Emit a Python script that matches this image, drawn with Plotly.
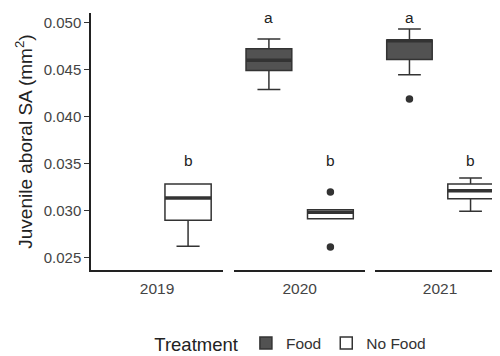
import plotly.graph_objects as go

years = ["2019", "2020", "2021"]
treatments = ["Food", "No Food"]

# box statistics per year (None = no data)
food_q1 = [None, 0.04493, 0.04610]
food_med = [None, 0.04603, 0.04810]
food_q3 = [None, 0.04727, 0.04819]
food_lo = [None, 0.04291, 0.04450]
food_hi = [None, 0.04830, 0.04936]
food_out = [[], [], [0.04191]]

nof_q1 = [0.02901, 0.02918, 0.03131]
nof_med = [0.03138, 0.02986, 0.03216]
nof_q3 = [0.03287, 0.03014, 0.03287]
nof_lo = [0.02624, 0.02918, 0.02997]
nof_hi = [0.03287, 0.03014, 0.03351]
nof_out = [[], [0.03202, 0.02617], []]

food_letters = [None, "a", "a"]
nof_letters = ["b", "b", "b"]

pos = {"Food": -0.47, "No Food": 0.47}
bw = 0.70
styles = {"Food": dict(fill="#525252", line="#333333"),
          "No Food": dict(fill="#ffffff", line="#333333")}

fig = go.Figure()
axes = ["x", "x2", "x3"]
shown = set()
rank = {"Food": 1, "No Food": 2}
for i, yr in enumerate(years):
    for tr, q1, med, q3, lo, hi, outs, letters, ly in [
        ("Food", food_q1, food_med, food_q3, food_lo, food_hi, food_out, food_letters, 0.05055),
        ("No Food", nof_q1, nof_med, nof_q3, nof_lo, nof_hi, nof_out, nof_letters, 0.03532),
    ]:
        if q1[i] is None:
            continue
        st = styles[tr]
        fig.add_trace(go.Box(
            x=[pos[tr]], q1=[q1[i]], median=[med[i]], q3=[q3[i]],
            lowerfence=[lo[i]], upperfence=[hi[i]], width=bw,
            fillcolor=st["fill"], line=dict(color=st["line"], width=1.5),
            name=tr, showlegend=tr not in shown, legendrank=rank[tr],
            boxpoints=False, hoverinfo="skip",
            xaxis=axes[i], yaxis="y"))
        shown.add(tr)
        # thick median
        fig.add_trace(go.Scatter(
            x=[pos[tr] - bw / 2, pos[tr] + bw / 2], y=[med[i], med[i]],
            mode="lines", line=dict(color="#333333", width=3.5),
            showlegend=False, hoverinfo="skip", xaxis=axes[i], yaxis="y"))
        if outs[i]:
            fig.add_trace(go.Scatter(
                x=[pos[tr]] * len(outs[i]), y=outs[i], mode="markers",
                marker=dict(color="#333333", size=7.5),
                showlegend=False, hoverinfo="skip", xaxis=axes[i], yaxis="y"))
        if letters[i]:
            fig.add_annotation(x=pos[tr], y=ly, xref=axes[i], yref="y",
                               text=letters[i], showarrow=False,
                               font=dict(size=15.5, color="#222222"))

domains = [[0.0, 0.319], [0.346, 0.662], [0.686, 1.0]]
for i, yr in enumerate(years):
    key = "xaxis" if i == 0 else f"xaxis{i+1}"
    fig.layout[key] = dict(
        domain=domains[i], range=[-1.0, 1.0], anchor="y",
        showline=True, linecolor="#222222", linewidth=1.5,
        showgrid=False, zeroline=False, ticks="",
        tickvals=[0], ticktext=[yr], automargin=False,
        ticklabelstandoff=4,
        tickfont=dict(size=15.5, color="#444444"))

fig.update_layout(
    width=500, height=356,
    margin=dict(l=83, r=3, t=5, b=94),
    paper_bgcolor="white", plot_bgcolor="white",
    font=dict(family="Liberation Sans, Arial, sans-serif"),
    yaxis=dict(
        range=[0.02372, 0.05106], anchor="x", automargin=False,
        tickvals=[0.025, 0.030, 0.035, 0.040, 0.045, 0.050],
        ticktext=["0.025", "0.030", "0.035", "0.040", "0.045", "0.050"],
        ticks="outside", ticklen=5, tickcolor="#333333", tickwidth=1,
        showline=True, linecolor="#222222", linewidth=1.5,
        showgrid=False, zeroline=False,
        tickfont=dict(size=15, color="#444444"),
        title=dict(text="Juvenile aboral SA (mm<sup>2</sup>)",
                   font=dict(size=19, color="#222222"), standoff=6)),
    legend=dict(orientation="h", x=0.485, xanchor="center", xref="paper",
                y=-0.22, yanchor="top", traceorder="normal",
                title=dict(text="Treatment", font=dict(size=18.5, color="#222222")),
                font=dict(size=15.5, color="#333333")),
)

fig.write_html("out.html")
